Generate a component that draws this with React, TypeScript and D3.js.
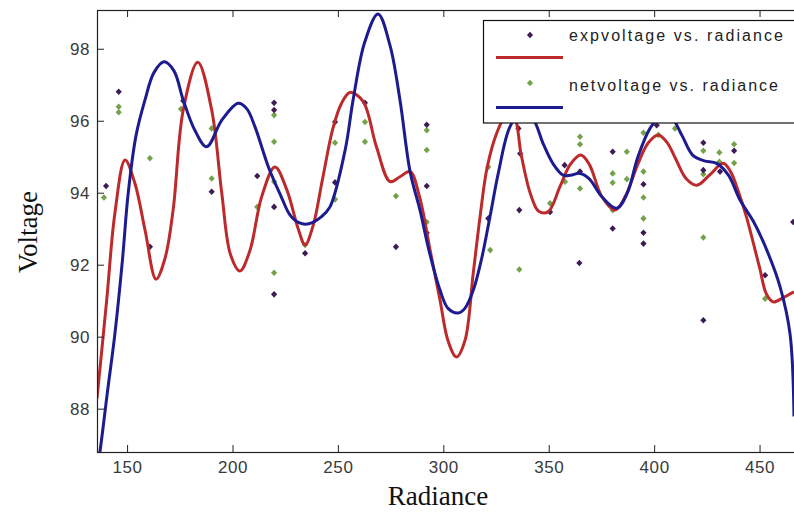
import React from 'react';
import * as d3 from 'd3';

const xTicks = [150, 200, 250, 300, 350, 400, 450];
const yTicks = [88, 90, 92, 94, 96, 98];
const xDomain = [135.5, 466.1];
const yDomain = [86.81, 99.09];

const expRadiance = [139.8, 145.8, 160.6, 176.4, 189.9, 211.5, 219.5, 219.5, 219.5, 219.5, 234.2, 248.4, 248.4, 262.6, 277.3, 291.9, 291.9, 291.9, 321.1, 335.4, 336.2, 335.8, 350.4, 357.3, 364.3, 364.6, 380.1, 380.1, 394.7, 394.7, 394.7, 401.0, 423.1, 423.1, 423.1, 431.0, 437.7, 452.4, 465.7];
const expVoltage = [94.2, 96.82, 92.51, 96.57, 94.04, 94.48, 96.51, 96.31, 93.62, 91.19, 92.33, 95.98, 94.3, 96.51, 92.51, 95.9, 94.2, 92.9, 93.3, 95.8, 95.1, 93.53, 93.48, 94.78, 92.06, 94.6, 95.15, 93.02, 94.25, 92.9, 92.6, 95.89, 95.4, 94.64, 90.47, 94.6, 95.18, 91.72, 93.2];

const netRadiance = [138.8, 145.8, 145.8, 160.6, 175.3, 189.9, 189.9, 211.5, 219.5, 219.5, 219.5, 219.5, 234.2, 248.4, 248.4, 262.6, 262.6, 277.3, 291.9, 291.9, 291.9, 321.1, 322.0, 335.8, 350.4, 357.5, 364.6, 364.6, 364.6, 380.1, 380.1, 380.1, 386.8, 386.8, 394.7, 394.7, 394.7, 394.7, 401.8, 409.7, 423.1, 423.1, 423.1, 430.7, 430.7, 437.7, 437.7, 452.4];
const netVoltage = [93.88, 96.4, 96.25, 94.97, 96.34, 95.8, 94.41, 93.62, 96.17, 95.43, 94.32, 91.79, 92.56, 95.4, 93.83, 95.98, 95.43, 93.92, 95.75, 95.2, 93.2, 94.73, 92.42, 91.88, 93.72, 94.32, 95.57, 95.36, 94.13, 94.55, 94.29, 93.53, 95.15, 94.39, 95.68, 94.6, 93.88, 93.3, 95.62, 95.8, 95.18, 94.53, 92.77, 95.13, 94.87, 95.36, 94.84, 91.07];

const expFitX = [135.5, 140.1, 144, 148.8, 153.5, 158.3, 163.5, 167.8, 171.6, 176.4, 183.3, 189.9, 194.7, 198.8, 203.3, 208, 213.6, 219.9, 225.5, 231, 234.2, 238, 242.5, 247.4, 251.5, 255.5, 261.7, 268, 274.5, 279, 284, 288.5, 293.5, 298.2, 302, 306, 310, 314, 317.2, 320.5, 325.1, 330, 333.5, 336.6, 341, 345, 349.4, 355.1, 360, 365, 369, 375, 381.2, 386, 392, 397, 401.8, 406, 410, 415, 420, 426, 432.5, 436, 440, 443.5, 449.7, 453, 456.3, 461, 466.1];
const expFitV = [88.3, 91.03, 93.45, 94.92, 94.27, 92.97, 91.61, 92.2, 93.53, 96.31, 97.64, 96.31, 93.99, 92.3, 91.84, 92.4, 93.9, 94.73, 94.1, 93.0, 92.56, 93.1, 94.4, 95.8, 96.5, 96.8, 96.55, 95.3, 94.32, 94.45, 94.6, 93.9, 92.42, 91.03, 89.9, 89.45, 89.9, 91.8, 93.35, 94.7, 95.67, 96.2, 96.1, 95.1, 94.0, 93.5, 93.48, 94.18, 94.8, 95.06, 94.8, 93.9, 93.53, 93.9, 94.8, 95.4, 95.62, 95.4, 94.95, 94.4, 94.22, 94.5, 94.83, 94.6, 94.0, 93.35, 91.95, 91.2, 90.98, 91.1, 91.26];

const netFitX = [135.5, 137, 140.5, 144, 147.5, 150.3, 154, 158.3, 162.5, 167.3, 172, 176.4, 181.9, 187.5, 194.7, 202.5, 206.5, 210.4, 216.8, 222.9, 227, 231.3, 236, 242, 246, 253.2, 257, 262.5, 268.8, 274.5, 279.2, 284, 288.7, 293, 298.2, 302, 306.8, 310, 314, 318, 321.9, 326, 331.4, 338, 343, 347.1, 352, 356.6, 360, 364.6, 369, 375, 382, 387, 392, 397.8, 403, 408, 413, 418, 423.5, 429.4, 435, 440.5, 447, 453.2, 459.5, 464.2, 466.1];
const netFitV = [86.3, 86.86, 88.5, 90.1, 92.1, 94.0, 95.6, 96.6, 97.35, 97.65, 97.4, 96.59, 95.75, 95.29, 96.03, 96.5, 96.35, 95.85, 94.73, 93.9, 93.4, 93.18, 93.15, 93.35, 93.62, 95.2, 96.6, 98.2, 98.98, 98.1, 96.59, 94.6, 93.53, 92.4, 91.31, 90.8, 90.67, 90.8, 91.31, 92.2, 93.35, 94.6, 95.85, 96.35, 96.0, 95.38, 94.8, 94.5, 94.5, 94.55, 94.4, 93.9, 93.58, 94.0, 95.0, 95.8, 96.15, 96.1, 95.6, 95.06, 94.9, 94.83, 94.5, 93.81, 93.2, 92.42, 91.4, 90.1, 87.8];

const legendLabels = ['expvoltage vs. radiance', 'netvoltage vs. radiance'];

const RED = '#bd2a2c';
const BLUE = '#1c1c90';
const PURPLE = '#3e1b55';
const GREEN = '#73a24a';

export default function App() {
  const left = 97, right = 794, top = 10, bottom = 452;
  const x = d3.scaleLinear().domain(xDomain).range([left, right]);
  const y = d3.scaleLinear().domain(yDomain).range([bottom, top]);
  const mkPath = (xs: number[], vs: number[]) =>
    d3
      .line<[number, number]>()
      .x((d) => x(d[0]))
      .y((d) => y(d[1]))
      .curve(d3.curveCatmullRom.alpha(0.5))(xs.map((v, i) => [v, vs[i]] as [number, number])) || '';
  const diamond = 'M0,-3.3L3.1,0L0,3.3L-3.1,0Z';
  const tickFont = "'Liberation Sans', Arial, sans-serif";

  return (
    <svg width={794} height={514} style={{ display: 'block', position: 'absolute', left: 0, top: 0 }}>
      <rect x={0} y={0} width={794} height={514} fill="#fff" />
      <defs>
        <clipPath id="plotClip">
          <rect x={left} y={top} width={right - left} height={bottom - top} />
        </clipPath>
      </defs>
      <g clipPath="url(#plotClip)">
        {netRadiance.map((r, i) => (
          <path key={'n' + i} d={diamond} transform={`translate(${x(r)},${y(netVoltage[i])})`} fill={GREEN} />
        ))}
        {expRadiance.map((r, i) => (
          <path key={'e' + i} d={diamond} transform={`translate(${x(r)},${y(expVoltage[i])})`} fill={PURPLE} />
        ))}
        <path d={mkPath(expFitX, expFitV)} fill="none" stroke={RED} strokeWidth={3} strokeLinejoin="round" />
        <path d={mkPath(netFitX, netFitV)} fill="none" stroke={BLUE} strokeWidth={3} strokeLinejoin="round" />
      </g>
      <rect x={left + 0.5} y={top + 0.5} width={right - left + 5} height={bottom - top} fill="none" stroke="#222" strokeWidth={1.2} />
      {xTicks.map((t) => (
        <g key={'xt' + t}>
          <line x1={x(t)} x2={x(t)} y1={bottom} y2={bottom - 7} stroke="#222" strokeWidth={1} />
          <line x1={x(t)} x2={x(t)} y1={top} y2={top + 7} stroke="#222" strokeWidth={1} />
          <text x={x(t)} y={473} textAnchor="middle" fontFamily={tickFont} fontSize={17} fill="#3a3a3a" letterSpacing={0.6}>
            {t}
          </text>
        </g>
      ))}
      {yTicks.map((t) => (
        <g key={'yt' + t}>
          <line x1={left} x2={left + 7} y1={y(t)} y2={y(t)} stroke="#222" strokeWidth={1} />
          <text x={90} y={y(t) + 6} textAnchor="end" fontFamily={tickFont} fontSize={17} fill="#3a3a3a" letterSpacing={0.6}>
            {t}
          </text>
        </g>
      ))}
      <rect x={483.5} y={20.5} width={320} height={102.5} fill="#fff" stroke="#111" strokeWidth={1.2} />
      <path d={diamond} transform={`translate(530,35)`} fill={PURPLE} />
      <text x={569} y={41} fontFamily={tickFont} fontSize={16} fill="#222" textLength={214} lengthAdjust="spacing">
        {legendLabels[0]}
      </text>
      <line x1={496} x2={563} y1={57.5} y2={57.5} stroke={RED} strokeWidth={3} />
      <path d={diamond} transform={`translate(530,83)`} fill={GREEN} />
      <text x={569} y={91} fontFamily={tickFont} fontSize={16} fill="#222" textLength={209} lengthAdjust="spacing">
        {legendLabels[1]}
      </text>
      <line x1={496} x2={563} y1={107.5} y2={107.5} stroke={BLUE} strokeWidth={3} />
      <text x={438} y={505} textAnchor="middle" fontFamily="'Liberation Serif', 'Times New Roman', serif" fontSize={27} fill="#111">
        Radiance
      </text>
      <text transform="translate(37,232) rotate(-90)" textAnchor="middle" fontFamily="'Liberation Serif', 'Times New Roman', serif" fontSize={27} fill="#111">
        Voltage
      </text>
    </svg>
  );
}
